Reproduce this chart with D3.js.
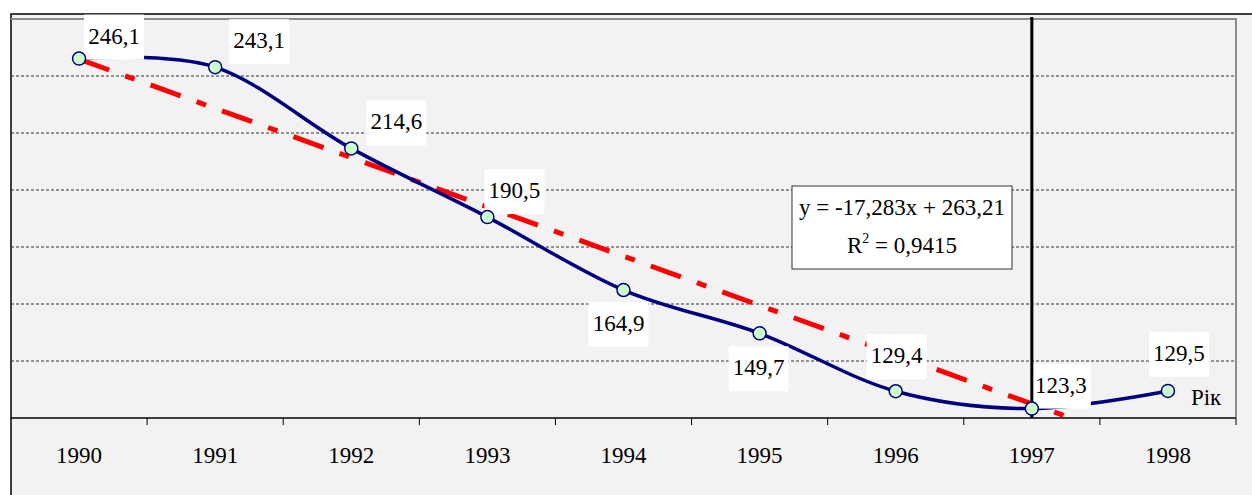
<!DOCTYPE html>
<html>
<head>
<meta charset="utf-8">
<script src="https://cdn.jsdelivr.net/npm/d3@7"></script>
<style>
  html, body { margin: 0; padding: 0; background: #ffffff; }
  text { font-family: "Liberation Serif", "DejaVu Serif", serif; }
</style>
</head>
<body>
<div id="chart"></div>
<script>
// data
const years = ["1990", "1991", "1992", "1993", "1994", "1995", "1996", "1997", "1998"];
const values = [246.1, 243.1, 214.6, 190.5, 164.9, 149.7, 129.4, 123.3, 129.5];
const yTicks = [140, 160, 180, 200, 220, 240];
const yDomain = [120, 260];
const trendSlope = -17.283;
const trendIntercept = 263.21;
const rSquared = 0.9415;
const markerYear = "1997";
const axisTitle = "Рік";

// label box placement, relative to each point (hand-placed in the original)
const labelShift = [[35, -22], [44, -26], [45, -26], [27, -26], [-5, 34], [-1, 35], [1, -35], [29, -23], [11, -37]];

const width = 1252, height = 495;
const plot = {left: 11, right: 1236, top: 19, bottom: 418};
const fontSize = 23;
const serif = '"Liberation Serif", "DejaVu Serif", serif';

const svg = d3.select("#chart").append("svg")
    .attr("width", width)
    .attr("height", height)
    .style("display", "block")
    .attr("font-family", serif);

// outer frame and background
svg.append("rect")
    .attr("x", 11).attr("y", 14)
    .attr("width", width).attr("height", height)
    .attr("fill", "#f2f2f2")
    .attr("stroke", "#000").attr("stroke-width", 1.5);

let x = d3.scaleBand()
    .domain(years)
    .range([plot.left, plot.right]);

let y = d3.scaleLinear()
    .domain(yDomain)
    .range([plot.bottom, plot.top]);

const cx = d => x(d) + x.bandwidth() / 2;
// trend x runs 1..n over the band centres
let xTrend = d3.scaleLinear()
    .domain([1, years.length])
    .range([cx(years[0]), cx(years[years.length - 1])]);

// gridlines
svg.append("g").selectAll("line")
    .data(yTicks)
    .enter().append("line")
    .attr("x1", plot.left).attr("x2", plot.right)
    .attr("y1", d => y(d)).attr("y2", d => y(d))
    .attr("stroke", "#333")
    .attr("stroke-width", 1)
    .attr("stroke-dasharray", "3,2");

// plot border, top and right
svg.append("path")
    .attr("d", `M${plot.left},${y(yDomain[1])}H${plot.right}V${plot.bottom}`)
    .attr("fill", "none")
    .attr("stroke", "#8c8c8c")
    .attr("stroke-width", 2);

// x axis
let xAxis = svg.append("g")
    .attr("transform", `translate(0, ${plot.bottom})`);
xAxis.append("line")
    .attr("x1", plot.left).attr("x2", plot.right)
    .attr("stroke", "#000").attr("stroke-width", 1.5);
xAxis.selectAll(".tk")
    .data(years)
    .enter().append("line")
    .attr("class", "tk")
    .attr("x1", d => x(d) + x.bandwidth()).attr("x2", d => x(d) + x.bandwidth())
    .attr("y1", 0).attr("y2", 7)
    .attr("stroke", "#000").attr("stroke-width", 1);
xAxis.selectAll("text")
    .data(years)
    .enter().append("text")
    .attr("x", d => cx(d))
    .attr("y", 45)
    .attr("text-anchor", "middle")
    .style("font-family", serif)
    .style("font-size", fontSize + "px")
    .text(d => d);

// clip for the trend line
svg.append("clipPath").attr("id", "plotClip")
    .append("rect")
    .attr("x", plot.left).attr("y", plot.top)
    .attr("width", plot.right - plot.left).attr("height", plot.bottom - plot.top);

// linear trend
const trendEnd = years.length - 0.5;
svg.append("line")
    .attr("clip-path", "url(#plotClip)")
    .attr("x1", xTrend(1)).attr("y1", y(trendSlope * 1 + trendIntercept))
    .attr("x2", xTrend(trendEnd)).attr("y2", y(trendSlope * trendEnd + trendIntercept))
    .attr("stroke", "#ff0000")
    .attr("stroke-width", 5)
    .attr("stroke-dasharray", "32,17,10,17");

// smoothed series line
let line = d3.line()
    .x((d, i) => cx(years[i]))
    .y(d => y(d))
    .curve(d3.curveCardinal);

svg.append("path")
    .datum(values)
    .attr("d", line)
    .attr("fill", "none")
    .attr("stroke", "#000080")
    .attr("stroke-width", 3.5);

// data labels with white boxes
const fmt = v => v.toFixed(1).replace(".", ",");
let labels = svg.append("g").selectAll("g")
    .data(values)
    .enter().append("g")
    .attr("transform", (d, i) => `translate(${cx(years[i]) + labelShift[i][0]}, ${y(d) + labelShift[i][1]})`);
labels.append("rect")
    .attr("x", -30).attr("y", -22)
    .attr("width", 60).attr("height", 45)
    .attr("fill", "#ffffff");
labels.append("text")
    .attr("y", 7)
    .attr("text-anchor", "middle")
    .style("font-family", serif)
    .style("font-size", fontSize + "px")
    .text(d => fmt(d));

// vertical marker at 1997
svg.append("line")
    .attr("x1", cx(markerYear)).attr("x2", cx(markerYear))
    .attr("y1", plot.top - 2).attr("y2", plot.bottom)
    .attr("stroke", "#000")
    .attr("stroke-width", 3);

// point markers
svg.append("g").selectAll("circle")
    .data(values)
    .enter().append("circle")
    .attr("cx", (d, i) => cx(years[i]))
    .attr("cy", d => y(d))
    .attr("r", 6.5)
    .attr("fill", "#ccffcc")
    .attr("stroke", "#000080")
    .attr("stroke-width", 1.5);

// axis title
svg.append("text")
    .attr("x", cx(years[years.length - 1]) + 23)
    .attr("y", plot.bottom - 13)
    .style("font-family", serif)
    .style("font-size", fontSize + "px")
    .text(axisTitle);

// equation box
const eqBox = {x: 792, y: 186, w: 220, h: 83};
let eq = svg.append("g");
eq.append("rect")
    .attr("x", eqBox.x).attr("y", eqBox.y)
    .attr("width", eqBox.w).attr("height", eqBox.h)
    .attr("fill", "#ffffff")
    .attr("stroke", "#333").attr("stroke-width", 1);
eq.append("text")
    .attr("x", eqBox.x + eqBox.w / 2)
    .attr("y", eqBox.y + 29)
    .attr("text-anchor", "middle")
    .style("font-family", serif)
    .style("font-size", fontSize + "px")
    .text(`y = ${String(trendSlope).replace(".", ",")}x + ${String(trendIntercept).replace(".", ",")}`);
let r2 = eq.append("text")
    .attr("x", eqBox.x + eqBox.w / 2)
    .attr("y", eqBox.y + 67)
    .attr("text-anchor", "middle")
    .style("font-family", serif)
    .style("font-size", fontSize + "px");
r2.append("tspan").text("R");
r2.append("tspan").attr("dy", -10).style("font-size", "14px").text("2");
r2.append("tspan").attr("dy", 10).text(" = " + String(rSquared).replace(".", ","));
</script>
</body>
</html>
